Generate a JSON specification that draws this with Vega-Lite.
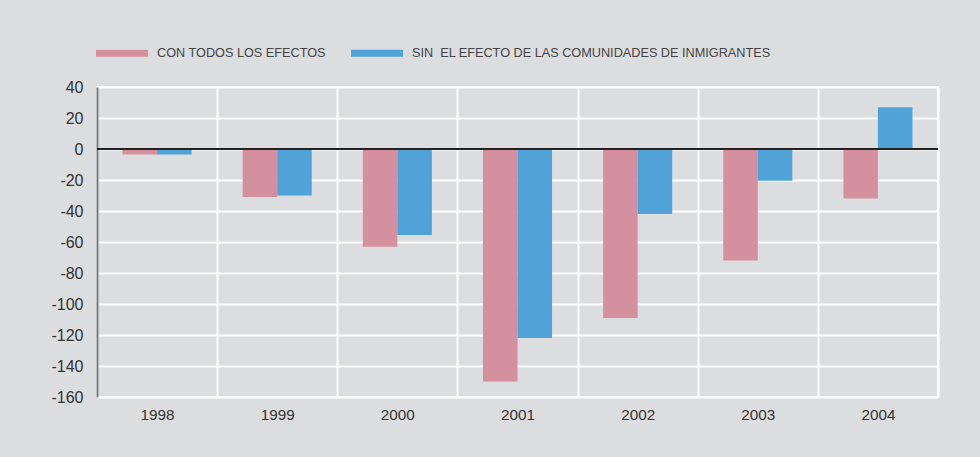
{
  "$schema": "https://vega.github.io/schema/vega-lite/v6.json",
  "width": 841,
  "height": 310,
  "autosize": "none",
  "padding": {"left": 97, "top": 87, "right": 42, "bottom": 60},
  "background": "#dcdddf",
  "config": {
    "view": {"stroke": "#ffffff", "strokeWidth": 2, "fill": "#dcdddf"},
    "font": "Liberation Sans",
    "axisY": {
      "title": null,
      "labelOverlap": false,
      "grid": true,
      "gridColor": "#ffffff",
      "gridWidth": 2,
      "gridOpacity": 1,
      "ticks": false,
      "domain": true,
      "domainColor": "#777777",
      "domainWidth": 2,
      "labelFontSize": 16,
      "labelColor": "#333333",
      "labelPadding": 14
    }
  },
  "data": {
    "values": [
      {"year": "1998", "serie": "CON TODOS LOS EFECTOS", "valor": -3.5},
      {"year": "1998", "serie": "SIN\u00a0 EL EFECTO DE LAS COMUNIDADES DE INMIGRANTES", "valor": -3.5},
      {"year": "1999", "serie": "CON TODOS LOS EFECTOS", "valor": -31},
      {"year": "1999", "serie": "SIN\u00a0 EL EFECTO DE LAS COMUNIDADES DE INMIGRANTES", "valor": -30},
      {"year": "2000", "serie": "CON TODOS LOS EFECTOS", "valor": -63},
      {"year": "2000", "serie": "SIN\u00a0 EL EFECTO DE LAS COMUNIDADES DE INMIGRANTES", "valor": -55.5},
      {"year": "2001", "serie": "CON TODOS LOS EFECTOS", "valor": -150},
      {"year": "2001", "serie": "SIN\u00a0 EL EFECTO DE LAS COMUNIDADES DE INMIGRANTES", "valor": -122},
      {"year": "2002", "serie": "CON TODOS LOS EFECTOS", "valor": -109},
      {"year": "2002", "serie": "SIN\u00a0 EL EFECTO DE LAS COMUNIDADES DE INMIGRANTES", "valor": -42},
      {"year": "2003", "serie": "CON TODOS LOS EFECTOS", "valor": -72},
      {"year": "2003", "serie": "SIN\u00a0 EL EFECTO DE LAS COMUNIDADES DE INMIGRANTES", "valor": -20.5},
      {"year": "2004", "serie": "CON TODOS LOS EFECTOS", "valor": -32},
      {"year": "2004", "serie": "SIN\u00a0 EL EFECTO DE LAS COMUNIDADES DE INMIGRANTES", "valor": 27}
    ]
  },
  "layer": [
    {
      "mark": {"type": "bar"},
      "encoding": {
        "x": {
          "field": "year",
          "type": "nominal",
          "scale": {"paddingInner": 0, "paddingOuter": 0},
          "axis": {
            "title": null,
            "labelAngle": 0,
            "domain": false,
            "ticks": false,
            "grid": true,
            "gridColor": "#ffffff",
            "gridWidth": 2,
            "gridOpacity": 1,
            "tickBand": "extent",
            "labelFontSize": 15.3,
            "labelColor": "#333333",
            "labelPadding": 10
          }
        },
        "xOffset": {
          "field": "serie",
          "type": "nominal",
          "scale": {"paddingInner": 0, "paddingOuter": 0.74}
        },
        "y": {
          "field": "valor",
          "type": "quantitative",
          "scale": {"domain": [-160, 40], "nice": false, "zero": false},
          "axis": {
            "values": [-160, -140, -120, -100, -80, -60, -40, -20, 0, 20, 40],
            "tickCount": 11,
            "labelExpr": "toString(datum.value)"
          }
        },
        "color": {
          "field": "serie",
          "type": "nominal",
          "scale": {
            "domain": ["CON TODOS LOS EFECTOS", "SIN\u00a0 EL EFECTO DE LAS COMUNIDADES DE INMIGRANTES"],
            "range": ["#d4909f", "#4fa3d9"]
          },
          "legend": {
            "title": null,
            "orient": "none",
            "direction": "horizontal",
            "legendX": -1,
            "legendY": -60,
            "padding": 0,
            "symbolType": "M-1,-0.135H1V0.135H-1Z",
            "symbolSize": 2704,
            "symbolStrokeWidth": 0,
            "symbolOpacity": 1,
            "labelFontSize": 12.7,
            "labelColor": "#444444",
            "labelOffset": 9,
            "columnPadding": 25,
            "labelLimit": 600
          }
        }
      }
    },
    {
      "mark": {"type": "rule", "color": "#222222", "strokeWidth": 1},
      "encoding": {
        "y": {
          "datum": 0,
          "type": "quantitative",
          "axis": {
            "values": [-160, -140, -120, -100, -80, -60, -40, -20, 0, 20, 40],
            "tickCount": 11,
            "labelExpr": "toString(datum.value)"
          }
        }
      }
    }
  ]
}
